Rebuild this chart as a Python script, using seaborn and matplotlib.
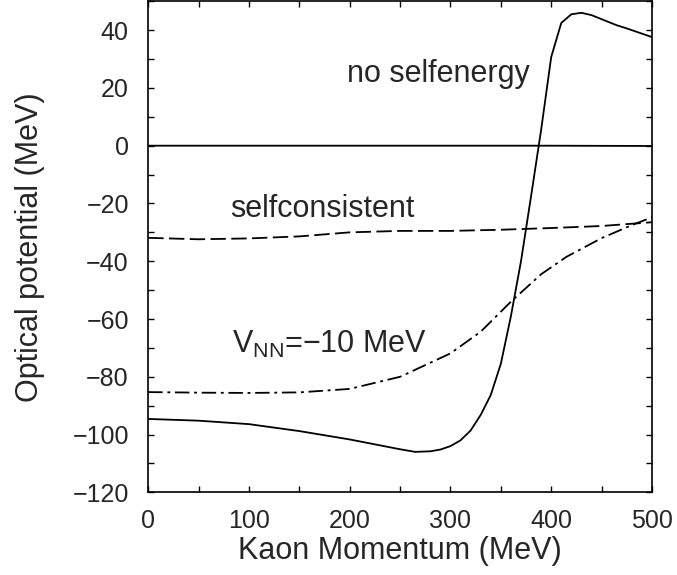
import matplotlib
matplotlib.use("Agg")
import matplotlib.pyplot as plt
from matplotlib.ticker import MultipleLocator
import seaborn as sns
import pandas as pd

# --- data ---
nose_x = [0, 100, 200, 300, 400, 500]
nose_y = [0.0, 0.0, 0.0, 0.0, 0.0, -0.1]

vnn0_x = [0, 50, 100, 150, 200, 225, 250, 265, 280, 290, 300, 310, 320, 330,
          340, 350, 360, 370, 380, 390, 400, 410, 420, 430, 440, 450, 465,
          475, 500]
vnn0_y = [-94.6, -95.2, -96.4, -98.8, -101.7, -103.4, -105.1, -106.0, -105.8,
          -105.2, -104.0, -102.0, -98.6, -93.2, -86.3, -75.5, -59.0, -40.0,
          -17.5, 5.5, 30.7, 42.5, 45.5, 46.0, 45.2, 43.8, 41.7, 40.6, 37.6]

self_x = [0, 50, 100, 150, 200, 250, 300, 350, 400, 450, 500]
self_y = [-31.9, -32.4, -32.1, -31.4, -30.0, -29.5, -29.5, -29.1, -28.5, -27.8, -26.5]

vnn10_x = [0, 50, 100, 150, 200, 250, 300, 330, 360, 390, 415, 450, 480, 500]
vnn10_y = [-85.3, -85.5, -85.6, -85.4, -84.2, -80.0, -71.9, -64.4, -54.0,
           -44.5, -38.5, -32.0, -27.5, -24.8]

xticks = [0, 100, 200, 300, 400, 500]
yticks = [-120, -100, -80, -60, -40, -20, 0, 20, 40]

sns.set_style("ticks")
plt.rcParams["font.family"] = ["Liberation Sans", "DejaVu Sans"]
plt.rcParams["mathtext.fontset"] = "custom"
plt.rcParams["mathtext.rm"] = "Liberation Sans"
plt.rcParams["mathtext.it"] = "Liberation Sans:italic"

fig = plt.figure(figsize=(6.77, 5.75), dpi=100)
ax = fig.add_axes([0.219, 0.1438, 0.744, 0.854])

lw = 1.3
sns.lineplot(data=pd.DataFrame({"x": nose_x, "y": nose_y}), x="x", y="y",
             ax=ax, color="black", lw=lw)
sns.lineplot(data=pd.DataFrame({"x": vnn0_x, "y": vnn0_y}), x="x", y="y",
             ax=ax, color="black", lw=lw)
sns.lineplot(data=pd.DataFrame({"x": self_x, "y": self_y}), x="x", y="y",
             ax=ax, color="black", lw=lw, linestyle=(0, (8.5, 3.0)))
sns.lineplot(data=pd.DataFrame({"x": vnn10_x, "y": vnn10_y}), x="x", y="y",
             ax=ax, color="black", lw=lw, linestyle=(0, (8.0, 2.6, 1.6, 2.6)))

ax.set_xlim(0, 500)
ax.set_ylim(-120, 50)
ax.set_xticks(xticks)
ax.set_yticks(yticks)
ax.xaxis.set_minor_locator(MultipleLocator(50))
ax.yaxis.set_minor_locator(MultipleLocator(10))
ax.tick_params(which="both", direction="in", top=True, right=True,
               length=4.0, width=1.0, color="black")
ax.tick_params(axis="x", which="major", labelsize=18, pad=12)
ax.tick_params(axis="y", which="major", labelsize=18, pad=14)
for s in ax.spines.values():
    s.set_linewidth(1.2)
    s.set_color("black")

ax.set_xlabel("Kaon Momentum (MeV)", fontsize=22, labelpad=2)
ax.set_ylabel("Optical potential (MeV)", fontsize=22, labelpad=20)

ax.text(197, 22, "no selfenergy", fontsize=22, ha="left", va="baseline")
ax.text(81, -24.6, "selfconsistent", fontsize=22, ha="left", va="baseline")
ax.text(82.7, -71.9, r"V$_\mathregular{NN}$=−10 MeV", fontsize=22,
        ha="left", va="baseline")

fig.savefig("out.png", dpi=100)
